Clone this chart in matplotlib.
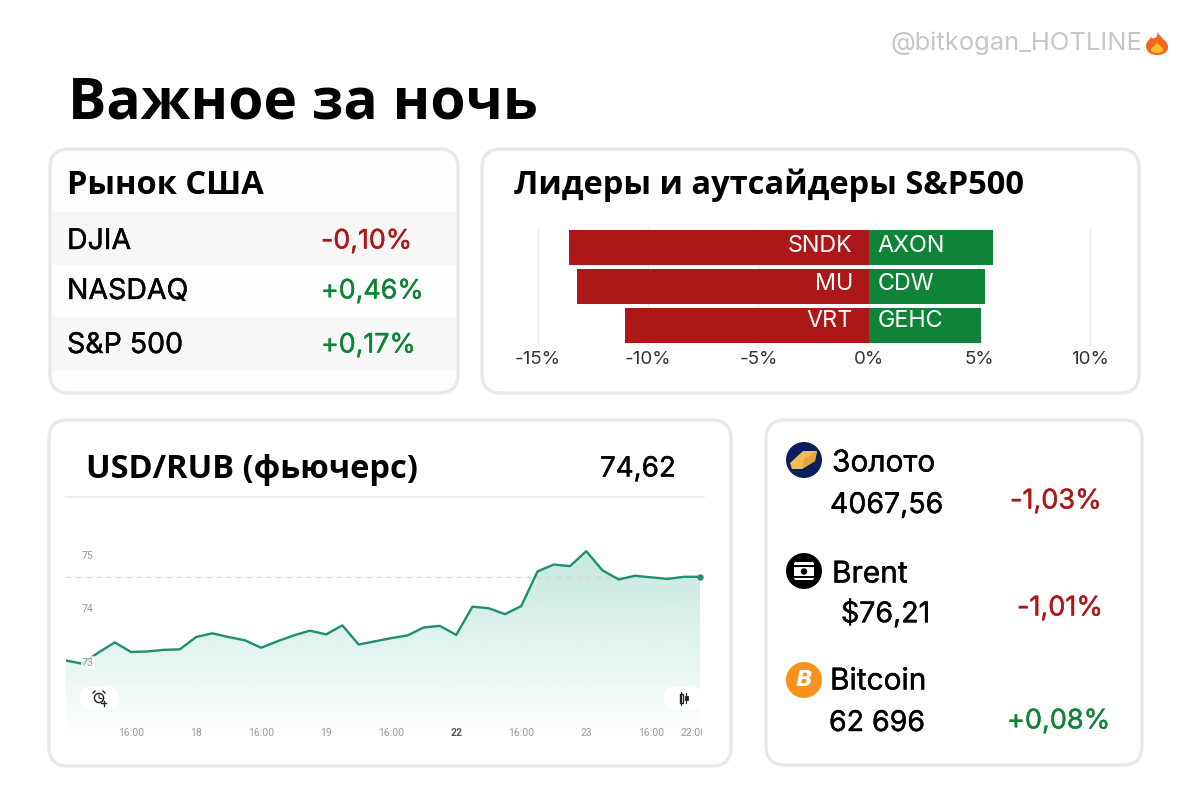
import numpy as np
import matplotlib
matplotlib.use('Agg')
import matplotlib.pyplot as plt
import matplotlib.patheffects as pe
from matplotlib.patches import FancyBboxPatch, Circle, Polygon, PathPatch, Rectangle
from matplotlib.path import Path

# --- data ---
title = 'Важное за ночь'
watermark = '@bitkogan_HOTLINE'

us_names = ['DJIA', 'NASDAQ', 'S&P 500']
us_changes = ['-0,10%', '+0,46%', '+0,17%']

losers = ['SNDK', 'MU', 'VRT']
loser_values = [-13.6, -13.2, -11.05]
gainers = ['AXON', 'CDW', 'GEHC']
gainer_values = [5.63, 5.26, 5.09]
bar_ticks = [-15, -10, -5, 0, 5, 10]

usd_rub = [73.02, 72.96, 73.17, 73.36, 73.18, 73.19, 73.22, 73.23, 73.46, 73.53,
           73.46, 73.40, 73.26, 73.38, 73.49, 73.58, 73.51, 73.68, 73.32, 73.38,
           73.44, 73.49, 73.64, 73.67, 73.50, 74.03, 74.00, 73.89, 74.04, 74.69,
           74.82, 74.79, 75.07, 74.71, 74.54, 74.61, 74.58, 74.55, 74.59, 74.59]
usd_rub_last = '74,62'
line_x_ticks = [4, 8, 12, 16, 20, 24, 28, 32, 36, 38.6]
line_x_labels = ['16:00', '18', '16:00', '19', '16:00', '22', '16:00', '23', '16:00', '22:00']
line_y_ticks = [73, 74, 75]

asset_names = ['Золото', 'Brent', 'Bitcoin']
asset_prices = ['4067,56', '$76,21', '62 696']
asset_changes = ['-1,03%', '-1,01%', '+0,08%']

RED = '#ae1717'
GREEN = '#0f8439'
LINE = '#1f8f70'
BODY = 'Inter'
HEAD = 'Open Sans'
W, H = 1200, 800


def px_axes(z):
    a = fig.add_axes([0, 0, 1, 1], zorder=z)
    a.set_xlim(0, W)
    a.set_ylim(H, 0)
    a.axis('off')
    a.patch.set_alpha(0)
    return a


def sub_axes(x0, y0, x1, y1, z):
    return fig.add_axes([x0 / W, 1 - y1 / H, (x1 - x0) / W, (y1 - y0) / H], zorder=z)


def card(x0, y0, x1, y1, face='white'):
    bg.add_patch(FancyBboxPatch((x0, y0), x1 - x0, y1 - y0, boxstyle='round,pad=0,rounding_size=19',
                                fc=face, ec='#e9e9e9', lw=2.4))


def change_color(s):
    return RED if s.startswith('-') else GREEN


def label(x, y, s, size, color='black', ha='left', family=BODY, weight='normal', thick=0.3):
    t = top.text(x, y + 1.5, s, fontsize=size, color=color, ha=ha, va='center', family=family, weight=weight)
    if thick:
        t.set_path_effects([pe.withStroke(linewidth=thick, foreground=color)])


fig = plt.figure(figsize=(12, 8), dpi=100, facecolor='white')
bg = px_axes(0)
top = px_axes(5)

# title and watermark
label(68, 102, title, 41, family=HEAD, weight='bold', thick=0)
label(1142, 42, watermark, 18.4, color='#c6c6c6', ha='right', thick=0)
# flame in place of the emoji
top.add_patch(PathPatch(Path([(1157, 31), (1160, 38), (1168, 41), (1168, 47), (1168, 53), (1162, 55), (1157, 55),
                              (1151, 55), (1146, 52), (1146, 46), (1146, 42), (1149, 40), (1151, 37), (1153, 40),
                              (1159, 38), (1157, 31)],
                             [Path.MOVETO] + [Path.CURVE4] * 15), fc='#f4661d', ec='none'))
top.add_patch(PathPatch(Path([(1157, 42), (1158, 45), (1163, 47), (1163, 50), (1163, 54), (1151, 54), (1151, 50),
                              (1151, 47), (1156, 46), (1157, 42)],
                             [Path.MOVETO] + [Path.CURVE4] * 9), fc='#fbc02d', ec='none'))

# US market card
card(50, 149, 458, 393, face='#fdfdfd')
bg.add_patch(Rectangle((52, 212), 404, 53, fc='#f7f7f7', ec='none'))
bg.add_patch(Rectangle((52, 317), 404, 53, fc='#f7f7f7', ec='none'))
label(67, 184, 'Рынок США', 23.5, family=HEAD, weight='bold', thick=0)
for name, chg, y in zip(us_names, us_changes, (240, 290, 344)):
    label(67, y, name, 20.5)
    label(321, y, chg, 19.3, color=change_color(chg))

# leaders card
card(482, 149, 1139, 393)
label(514, 184, 'Лидеры и аутсайдеры S&P500', 23.5, family=HEAD, weight='bold', thick=0)
ax = sub_axes(537.7, 228, 1089.5, 345, 2)
ypos = np.arange(len(losers))
ax.barh(ypos, loser_values, height=0.89, color=RED, zorder=3)
ax.barh(ypos, gainer_values, height=0.89, color=GREEN, zorder=3)
ax.set_xlim(bar_ticks[0], bar_ticks[-1])
ax.set_ylim(2.5, -0.5)
ax.set_xticks(bar_ticks)
ax.set_xticklabels(['%d%%' % t for t in bar_ticks], fontsize=13.5, family=BODY, color='#333333')
ax.set_yticks([])
ax.tick_params(axis='x', length=0, pad=4.5)
ax.grid(axis='x', color='#ececec', lw=1, clip_on=False)
ax.set_axisbelow(True)
for s in ax.spines.values():
    s.set_visible(False)
ax.patch.set_alpha(0)
for i, (lo, gain, nudge) in enumerate(zip(losers, gainers, (1, 1.5, 3))):
    ax.annotate(lo, (0, i), xytext=(-11.5, nudge), textcoords='offset points', ha='right', va='center',
                fontsize=16.8, color='white', family=BODY, zorder=4)
    ax.annotate(gain, (0, i), xytext=(6.5, nudge), textcoords='offset points', ha='left', va='center',
                fontsize=16.8, color='white', family=BODY, zorder=4)

# USD/RUB card
card(49, 420, 731, 766)
label(86, 468, 'USD/RUB (фьючерс)', 23.5, family=HEAD, weight='bold', thick=0)
label(600, 468, usd_rub_last, 20)
bg.plot([66, 704], [497, 497], color='#ececec', lw=1.2)

ax2 = sub_axes(66, 500, 702, 740, 2)
xs = np.arange(len(usd_rub))
ax2.set_xlim(0, 39.12)
ax2.set_ylim(71.53, 76.03)
grad = np.ones((256, 1, 4))
grad[:, 0, :3] = matplotlib.colors.to_rgb('#17a57f')
grad[:, 0, 3] = np.linspace(0.27, 0, 256)
im = ax2.imshow(grad, extent=[0, 39, 71.53, 75.3], aspect='auto', origin='upper', zorder=1)
fill = ax2.fill_between(xs, usd_rub, 71.53, color='none')
im.set_clip_path(fill.get_paths()[0], transform=ax2.transData)
ax2.set_xlim(0, 39.12)
ax2.set_ylim(71.53, 76.03)
ax2.axhline(usd_rub[-1], color='#d4d4d4', lw=0.9, ls=(0, (4, 4)), zorder=1.5)
ax2.plot(xs, usd_rub, color=LINE, lw=1.7, zorder=2)
ax2.plot(xs[-1], usd_rub[-1], 'o', color=LINE, ms=3.6, zorder=3, clip_on=False)
ax2.set_axisbelow(False)
ax2.set_yticks(line_y_ticks)
ax2.set_yticklabels([str(v) for v in line_y_ticks], fontsize=7.6, family='Roboto', color='#999999')
ax2.set_xticks(line_x_ticks)
ax2.set_xticklabels(line_x_labels, fontsize=7.6, family='Roboto', color='#999999')
ax2.tick_params(axis='y', length=0, pad=-20)
ax2.tick_params(axis='x', length=0, pad=-9)
for t in ax2.get_xticklabels():
    t.set_clip_on(True)
    t.set_clip_box(ax2.bbox)
    if t.get_text() == '22':
        t.set_fontweight('bold')
        t.set_color('#555555')
for t in ax2.get_yticklabels():
    t.set_bbox(dict(fc='white', ec='none', alpha=0.75, pad=1))
for s in ax2.spines.values():
    s.set_visible(False)
ax2.patch.set_alpha(0)

# chart buttons
top.add_patch(FancyBboxPatch((80, 686), 38, 24, boxstyle='round,pad=0,rounding_size=12', fc='white', ec='none'))
top.add_patch(FancyBboxPatch((664, 686), 38, 24, boxstyle='round,pad=0,rounding_size=12', fc='white', ec='none'))
top.add_patch(Rectangle((702, 684), 4, 28, fc='white', ec='none'))
top.add_patch(Circle((99, 698), 4.6, fc='none', ec='#222222', lw=1))
top.plot([99, 99, 102], [695, 698, 699], color='#222222', lw=0.8)
top.plot([93, 95], [693, 691], color='#222222', lw=1)
top.plot([105, 103], [693, 691], color='#222222', lw=1)
top.plot([101, 106], [703, 703], color='#222222', lw=1)
top.plot([103.5, 103.5], [700.5, 705.5], color='#222222', lw=1)
top.add_patch(Rectangle((679.5, 694), 3, 9, fc='none', ec='#222222', lw=1))
top.plot([681, 681], [692, 705], color='#222222', lw=0.8)
top.add_patch(Rectangle((685, 696), 2.6, 4, fc='#222222', ec='#222222', lw=0.6))
top.plot([686.3, 686.3], [693, 703], color='#222222', lw=0.8)

# assets card
card(766, 420, 1142, 765)
top.add_patch(Circle((804, 460), 18, fc='#0c1f5c', ec='none'))
top.add_patch(Polygon([(790, 463), (803, 451), (817, 451), (815, 461), (802, 469), (792, 469)], fc='#f0bd58', ec='none'))
top.add_patch(Polygon([(815, 461), (817, 451), (804, 459), (802, 469)], fc='#e2a63d', ec='none'))
top.add_patch(Circle((804, 571), 18, fc='black', ec='none'))
top.add_patch(FancyBboxPatch((794, 562), 20, 18, boxstyle='round,pad=0,rounding_size=2', fc='white', ec='none'))
top.add_patch(Rectangle((794, 565), 20, 1.6, fc='black', ec='none'))
top.add_patch(Rectangle((794, 576), 20, 1.6, fc='black', ec='none'))
top.add_patch(Circle((804, 571.5), 3.2, fc='black', ec='none'))
top.add_patch(Circle((804, 680), 18, fc='#f7931a', ec='none'))
top.text(804, 680, 'B', fontsize=16, color='white', ha='center', va='center', weight='bold', style='italic',
         family='DejaVu Sans')

name_pos = [(832, 462), (832, 573), (830, 680)]
price_pos = [(830, 504), (841, 612), (829, 722)]
chg_pos = [(1010, 500), (1017, 607), (1007, 720)]
for i in range(3):
    label(name_pos[i][0], name_pos[i][1], asset_names[i], 21.5)
    label(price_pos[i][0], price_pos[i][1], asset_prices[i], 20.5)
    label(chg_pos[i][0], chg_pos[i][1], asset_changes[i], 19.5, color=change_color(asset_changes[i]))

fig.savefig('out.png', dpi=100)
